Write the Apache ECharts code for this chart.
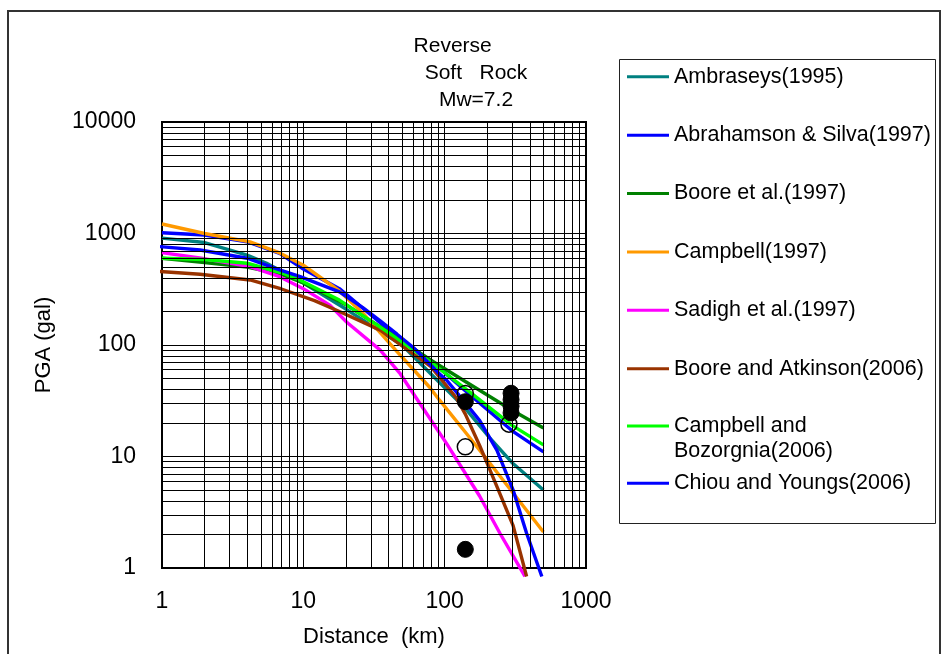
<!DOCTYPE html>
<html><head><meta charset="utf-8">
<script src="https://cdn.jsdelivr.net/npm/echarts@6/dist/echarts.min.js"></script>
<style>html,body{margin:0;padding:0;background:#fff}#chart{width:941px;height:654px}</style>
</head><body><div id="chart"></div>
<script>
const FONT = '"Liberation Sans", Arial, sans-serif';

const seriesNames = ['Ambraseys(1995)', 'Abrahamson & Silva(1997)', 'Boore et al.(1997)', 'Campbell(1997)',
  'Sadigh et al.(1997)', 'Boore and Atkinson(2006)', 'Campbell and Bozorgnia(2006)', 'Chiou and Youngs(2006)'];
const seriesColors = ['#008080', '#0000FF', '#008000', '#FF9900', '#FF00FF', '#993300', '#00FF00', '#0000FF'];

const ambraseysDist = [1, 2, 4, 5.5, 10, 20, 35, 50, 80, 140, 210, 300, 500];
const ambraseysPGA  = [910, 830, 640, 540, 360, 210, 133, 100, 55, 27, 14.5, 8.8, 5.0];

const abrahamsonDist = [1, 2, 4, 6.8, 10, 18, 31, 46, 80, 92, 150, 300, 500];
const abrahamsonPGA  = [1016, 970, 844, 664, 480, 320, 180, 118, 72, 62, 36, 17, 11];

const boore97Dist = [1, 2, 4, 7, 10, 20, 45, 80, 140, 300, 500];
const boore97PGA  = [600, 550, 500, 430, 360, 230, 118, 73, 47, 26, 18];

const campbell97Dist = [1, 2, 4.2, 6.8, 10, 18, 26.5, 45, 78, 92, 143, 209, 305, 500];
const campbell97PGA  = [1217, 1000, 840, 670, 520, 305, 192, 90, 42, 32, 16, 8.7, 4.7, 2.1];

const sadighDist = [1, 1.9, 4.2, 6.8, 10, 15.4, 20.3, 35, 48.6, 66.6, 103, 177, 246, 370];
const sadighPGA  = [673, 600, 504, 410, 320, 228, 160, 90, 55, 30, 13.1, 4.4, 2.05, 0.84];

const ba06Dist = [0.86, 1.86, 4.2, 7, 12, 18, 35, 80, 120, 140, 177, 234, 305, 380];
const ba06PGA  = [461, 431, 383, 318, 250, 200, 136, 64, 34, 24, 12.5, 5.4, 2.4, 0.84];

const cb06Dist = [1, 2, 4, 7.2, 9.5, 18, 45, 80, 150, 300, 500];
const cb06PGA  = [599, 585, 541, 440, 381, 253, 117, 70, 38, 19, 12.7];

const cy06Dist = [0.86, 1.86, 4, 6.8, 9.5, 18, 26.5, 35, 46, 60, 92, 103, 135, 177, 234, 305, 380, 487];
const cy06PGA  = [773, 711, 600, 471, 410, 300, 215, 165, 125, 95, 55, 48.5, 32, 21, 11.4, 5.0, 2.05, 0.84];

const hollowDist = [140, 140, 285];
const hollowPGA  = [36.7, 12.2, 19.5];
const filledDist = [140, 140, 295, 295, 295, 295];
const filledPGA  = [31, 1.47, 36.9, 32.3, 28.3, 24.6];

const xTicks = [1, 10, 100, 1000];
const yTicks = [1, 10, 100, 1000, 10000];
const minorSteps = [2, 3, 4, 5, 6, 7, 8, 9];

const zip = (a, b) => a.map((v, i) => [v, b[i]]);
const curves = [
  zip(ambraseysDist, ambraseysPGA), zip(abrahamsonDist, abrahamsonPGA), zip(boore97Dist, boore97PGA),
  zip(campbell97Dist, campbell97PGA), zip(sadighDist, sadighPGA), zip(ba06Dist, ba06PGA),
  zip(cb06Dist, cb06PGA), zip(cy06Dist, cy06PGA)
];

const xMinor = [], yMinor = [];
xTicks.slice(0, -1).forEach(t => minorSteps.forEach(m => xMinor.push(t * m)));
yTicks.slice(0, -1).forEach(t => minorSteps.forEach(m => yMinor.push(t * m)));

const series = [{
  type: 'scatter', name: 'gridlines', data: [], z: 1, silent: true,
  markLine: {
    silent: true, symbol: 'none', animation: false,
    label: { show: false },
    lineStyle: { color: '#000', width: 1, type: 'solid' },
    emphasis: { disabled: true },
    data: xMinor.map(v => ({ xAxis: v })).concat(yMinor.map(v => ({ yAxis: v })))
  }
}];
curves.forEach((d, i) => series.push({
  type: 'line', name: seriesNames[i], data: d, color: seriesColors[i],
  showSymbol: false, symbol: 'none', clip: false, z: 2 + i * 0.01,
  lineStyle: { color: seriesColors[i], width: 3.4 }
}));
series.push({
  type: 'scatter', name: 'obs-open', data: zip(hollowDist, hollowPGA), symbolSize: 16, z: 3, clip: false,
  itemStyle: { color: 'transparent', borderColor: '#000', borderWidth: 1.5, opacity: 1 }
});
series.push({
  type: 'scatter', name: 'obs-filled', data: zip(filledDist, filledPGA), symbolSize: 16, z: 4, clip: false,
  itemStyle: { color: '#000', borderColor: '#000', borderWidth: 1, opacity: 1 }
});

const LH = 25.5;
const legendText = { fontSize: 21.5, lineHeight: LH, color: '#000', fontFamily: FONT };
const legendCommon = {
  orient: 'vertical', left: 627, padding: 0, itemWidth: 42, itemHeight: 3, icon: 'rect',
  selectedMode: false, textStyle: legendText
};

const option = {
  animation: false,
  backgroundColor: '#fff',
  title: {
    text: 'Reverse        \nSoft   Rock\nMw=7.2', left: 476, top: 32.5, textAlign: 'center', padding: 0,
    textStyle: { fontSize: 21, lineHeight: 27, fontWeight: 'normal', color: '#000', fontFamily: FONT }
  },
  legend: [
    Object.assign({}, legendCommon, { data: seriesNames.slice(0, 6), top: 64, itemGap: 58.4 - LH }),
    Object.assign({}, legendCommon, {
      data: seriesNames.slice(6),
      formatter: n => n === seriesNames[6] ? '\nCampbell and\nBozorgnia(2006)' : n,
      top: 426 - 1.5 * LH, itemGap: 483.3 - LH / 2 - (426 + 1.5 * LH)
    })
  ],
  graphic: [
    { type: 'rect', silent: true, z: -10, shape: { x: 8, y: 11, width: 932, height: 700 },
      style: { fill: 'none', stroke: '#333', lineWidth: 2 } },
    { type: 'rect', silent: true, z: -10, shape: { x: 619.5, y: 59.5, width: 316, height: 464 },
      style: { fill: 'none', stroke: '#222', lineWidth: 1 } }
  ],
  grid: { left: 162, top: 122, width: 424, height: 446, show: true, borderColor: '#000', borderWidth: 2, backgroundColor: 'transparent' },
  xAxis: {
    type: 'log', logBase: 10, min: xTicks[0], max: xTicks[xTicks.length - 1],
    name: 'Distance  (km)', nameLocation: 'middle', nameGap: 58,
    nameTextStyle: { fontSize: 22, color: '#000', fontFamily: FONT },
    axisLine: { show: true, lineStyle: { color: '#000', width: 2 } },
    axisTick: { show: false },
    axisLabel: { fontSize: 23, color: '#000', fontFamily: FONT, margin: 22, formatter: v => String(Math.round(v)) },
    splitLine: { show: true, lineStyle: { color: '#000', width: 1 } }
  },
  yAxis: {
    type: 'log', logBase: 10, min: yTicks[0], max: yTicks[yTicks.length - 1],
    name: 'PGA (gal)', nameLocation: 'middle', nameGap: 107, nameRotate: 90,
    nameTextStyle: { fontSize: 22, color: '#000', fontFamily: FONT },
    axisLine: { show: true, lineStyle: { color: '#000', width: 2 } },
    axisTick: { show: false },
    axisLabel: { fontSize: 23, color: '#000', fontFamily: FONT, margin: 26, formatter: v => String(Math.round(v)) },
    splitLine: { show: true, lineStyle: { color: '#000', width: 1 } }
  },
  series: series
};

const chart = echarts.init(document.getElementById('chart'), null, { renderer: 'canvas' });
chart.setOption(option);
</script>
</body></html>
